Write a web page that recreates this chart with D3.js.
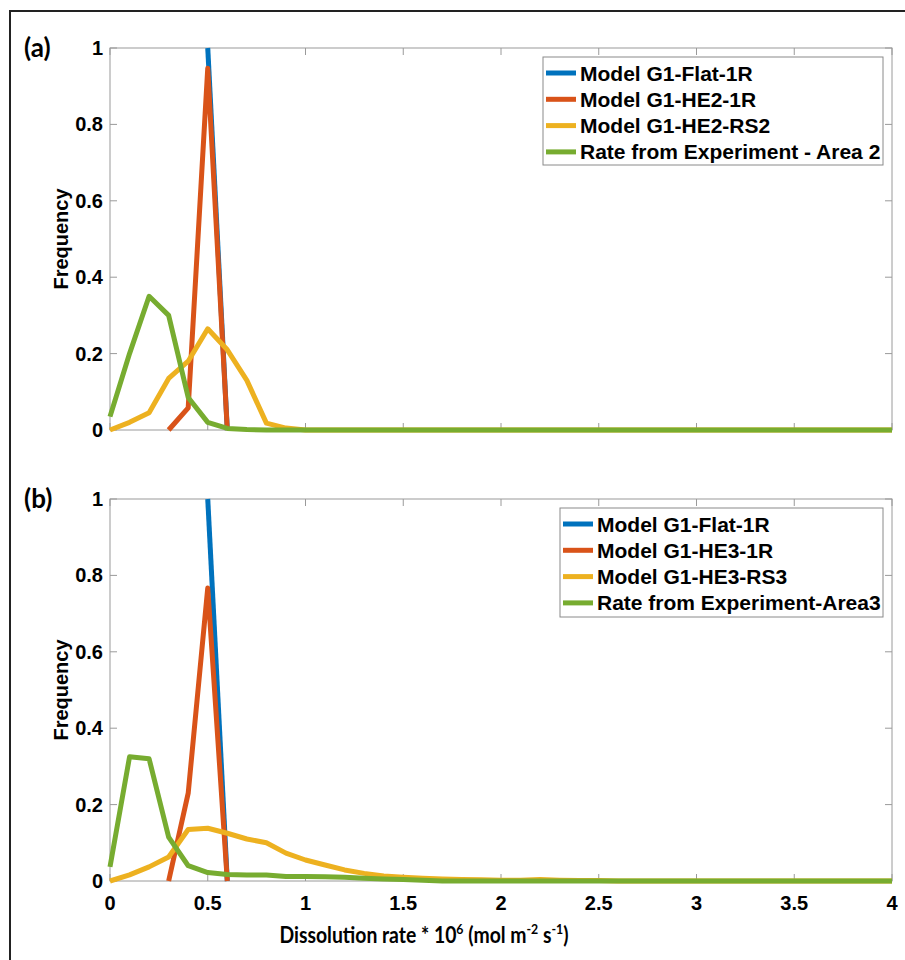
<!DOCTYPE html>
<html><head><meta charset="utf-8">
<script src="https://cdn.jsdelivr.net/npm/d3@7"></script>
<style>
body{margin:0;background:#fff;}
svg{display:block;}
text{font-family:Arial,"Liberation Sans",Helvetica,sans-serif;font-weight:bold;fill:#000;}
</style></head>
<body>
<svg id="c" width="905" height="960"></svg>
<script>
// ---------- data ----------
const xTicks = [0,0.5,1,1.5,2,2.5,3,3.5,4];
const xTickLabels = ["0","0.5","1","1.5","2","2.5","3","3.5","4"];
const yTicks = [0,0.2,0.4,0.6,0.8,1];
const yTickLabels = ["0","0.2","0.4","0.6","0.8","1"];
const colors = ["#0072BD","#D95319","#EDB120","#77AC30"];

// Panel (a)
const namesA = ["Model G1-Flat-1R","Model G1-HE2-1R","Model G1-HE2-RS2","Rate from Experiment - Area 2"];
const flatA_x = [0.5,0.6];
const flatA_y = [1,0];
const he2A_x = [0.3,0.4,0.5,0.6];
const he2A_y = [0,0.058,0.947,0];
const rs2A_x = [0,0.1,0.2,0.3,0.4,0.5,0.6,0.7,0.8,0.9,1.0,4];
const rs2A_y = [0,0.02,0.045,0.135,0.18,0.265,0.21,0.13,0.018,0.005,0,0];
const expA_x = [0,0.1,0.2,0.3,0.4,0.5,0.6,0.7,0.8,4];
const expA_y = [0.035,0.2,0.35,0.30,0.085,0.02,0.004,0.001,0,0];

// Panel (b)
const namesB = ["Model G1-Flat-1R","Model G1-HE3-1R","Model G1-HE3-RS3","Rate from Experiment-Area3"];
const flatB_x = [0.5,0.6];
const flatB_y = [1,0];
const he3B_x = [0.3,0.4,0.5,0.6];
const he3B_y = [0,0.23,0.767,0];
const rs3B_x = [0,0.1,0.2,0.3,0.4,0.5,0.6,0.7,0.8,0.9,1.0,1.1,1.2,1.3,1.4,1.5,1.6,1.7,1.8,1.9,2.0,2.1,2.2,2.3,2.4,2.5,2.6,4];
const rs3B_y = [0,0.016,0.037,0.063,0.135,0.138,0.125,0.11,0.1,0.073,0.055,0.042,0.029,0.02,0.013,0.01,0.007,0.005,0.004,0.003,0.002,0.002,0.004,0.002,0.001,0.001,0,0];
const expB_x = [0,0.1,0.2,0.3,0.4,0.5,0.6,0.7,0.8,0.9,1.0,1.1,1.2,1.3,1.4,1.5,1.6,1.7,4];
const expB_y = [0.037,0.325,0.32,0.115,0.04,0.022,0.017,0.016,0.016,0.012,0.012,0.011,0.01,0.007,0.005,0.004,0.002,0,0];

const seriesA = [[flatA_x,flatA_y],[he2A_x,he2A_y],[rs2A_x,rs2A_y],[expA_x,expA_y]];
const seriesB = [[flatB_x,flatB_y],[he3B_x,he3B_y],[rs3B_x,rs3B_y],[expB_x,expB_y]];

// ---------- drawing ----------
const svg = d3.select("#c");
svg.append("rect").attr("x",10).attr("y",11).attr("width",905).attr("height",960)
  .attr("fill","none").attr("stroke","#222").attr("stroke-width",2);

const defs = svg.append("defs");
defs.append("clipPath").attr("id","clipTopLabels").append("rect")
  .attr("x",0).attr("y",0).attr("width",905).attr("height",444);

function panel(cfg){
  const x = d3.scaleLinear().domain([0,4]).range([110,892]);
  const y = d3.scaleLinear().domain([0,1]).range([cfg.y0,cfg.y1]);
  const g = svg.append("g");
  const axColor = "#9a9a9a";
  g.append("rect").attr("x",x(0)).attr("y",y(1)).attr("width",x(4)-x(0)).attr("height",y(0)-y(1))
    .attr("fill","none").attr("stroke",axColor).attr("stroke-width",1);
  const tl = 7;
  xTicks.forEach(t=>{
    g.append("line").attr("x1",x(t)).attr("x2",x(t)).attr("y1",y(0)).attr("y2",y(0)-tl).attr("stroke",axColor);
    g.append("line").attr("x1",x(t)).attr("x2",x(t)).attr("y1",y(1)).attr("y2",y(1)+tl).attr("stroke",axColor);
  });
  yTicks.forEach(t=>{
    g.append("line").attr("x1",x(0)).attr("x2",x(0)+tl).attr("y1",y(t)).attr("y2",y(t)).attr("stroke",axColor);
    g.append("line").attr("x1",x(4)).attr("x2",x(4)-tl).attr("y1",y(t)).attr("y2",y(t)).attr("stroke",axColor);
  });
  const xl = g.append("g");
  if(cfg.clipX) xl.attr("clip-path","url(#clipTopLabels)");
  xTicks.forEach((t,i)=>{
    xl.append("text").attr("x",x(t)).attr("y",y(0)+29).attr("text-anchor","middle")
      .attr("font-size",20).text(xTickLabels[i]);
  });
  yTicks.forEach((t,i)=>{
    g.append("text").attr("x",x(0)-7).attr("y",y(t)+7).attr("text-anchor","end")
      .attr("font-size",20).text(yTickLabels[i]);
  });
  const ym = (y(0)+y(1))/2;
  g.append("text").attr("transform",`translate(68,${ym}) rotate(-90)`).attr("text-anchor","middle")
    .attr("font-size",20).text("Frequency");
  g.append("text").attr("x",24).attr("y",cfg.labY).attr("font-size",26)
    .style("font-family","Lato, 'Open Sans', sans-serif").text(cfg.label);
  const line = d3.line().x(d=>x(d[0])).y(d=>y(d[1]));
  cfg.series.forEach((s,i)=>{
    const pts = s[0].map((xv,k)=>[xv,s[1][k]]);
    g.append("path").attr("d",line(pts)).attr("fill","none").attr("stroke",colors[i])
      .attr("stroke-width",5).attr("stroke-linejoin","round");
  });
  const L = cfg.legend;
  g.append("rect").attr("x",L.x0).attr("y",L.y0).attr("width",883-L.x0).attr("height",L.h)
    .attr("fill","#fff").attr("stroke","#8a8a8a").attr("stroke-width",1);
  cfg.names.forEach((n,i)=>{
    const yy = L.y0 + 16 + i*26.3;
    g.append("line").attr("x1",L.x0+3).attr("x2",L.x0+33).attr("y1",yy).attr("y2",yy)
      .attr("stroke",colors[i]).attr("stroke-width",5);
    g.append("text").attr("x",L.x0+37).attr("y",yy+7.5).attr("font-size",21).text(n);
  });
}

panel({y0:430,y1:48,series:seriesA,names:namesA,label:"(a)",labY:57,clipX:true,
  legend:{x0:543,y0:57,h:108}});
panel({y0:881,y1:499,series:seriesB,names:namesB,label:"(b)",labY:508,clipX:false,
  legend:{x0:560,y0:508,h:109}});

// x-axis label
const xlab = svg.append("text").attr("transform","translate(424,943) scale(0.88,1)")
  .attr("text-anchor","middle")
  .attr("font-size",22).style("font-family","Lato, 'Open Sans', sans-serif");
xlab.append("tspan").text("Dissolution rate * 10");
xlab.append("tspan").attr("font-size",14).attr("dy",-9).text("6");
xlab.append("tspan").attr("dy",9).text(" (mol m");
xlab.append("tspan").attr("font-size",14).attr("dy",-9).text("-2");
xlab.append("tspan").attr("dy",9).text(" s");
xlab.append("tspan").attr("font-size",14).attr("dy",-9).text("-1");
xlab.append("tspan").attr("dy",9).text(")");
</script>
</body></html>
